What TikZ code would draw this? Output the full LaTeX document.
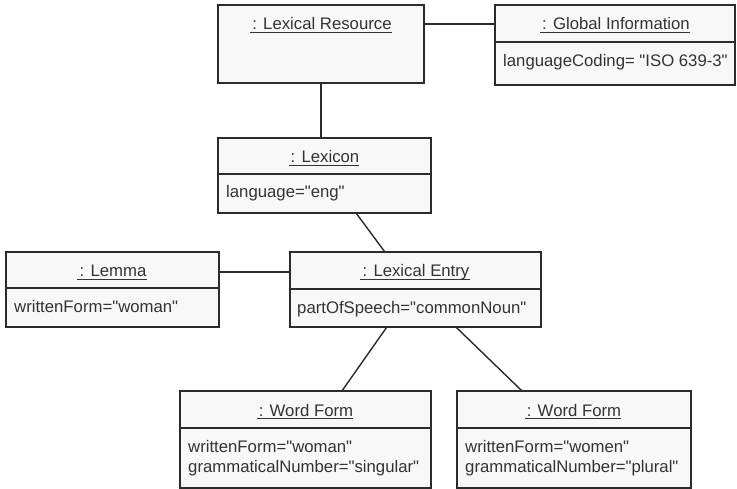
\documentclass[tikz,border=0pt]{standalone}
\usepackage{fontspec}
\setmainfont{Liberation Sans}[Ligatures=TeXOff]
\usetikzlibrary{calc}
\definecolor{ln}{HTML}{2B2B2B}
\definecolor{bx}{HTML}{F8F8F8}
\definecolor{tx}{HTML}{333333}
\begin{document}
\begin{tikzpicture}[x=1bp,y=-1bp,
  obj/.style={draw=ln, line width=1.4bp, fill=bx, inner sep=0pt, outer sep=0pt, anchor=north west},
  ttl/.style={inner sep=0pt, anchor=base, text=tx, font=\fontsize{16.8}{20}\selectfont},
  attr/.style={inner sep=0pt, anchor=base west, text=tx, font=\fontsize{16.8}{20}\selectfont},
  link/.style={draw=ln, line width=1.4bp},
  ul/.style={draw=tx, line width=1bp},
  sep/.style={draw=ln, line width=1.4bp}]
\fill[white] (0,0) rectangle (737,489);
\useasboundingbox (0,0) rectangle (737,489);

% boxes
\node[obj, minimum width=206bp, minimum height=78bp] (lr) at (218,5) {};
\node[obj, minimum width=240bp, minimum height=80bp] (gi) at (495,5) {};
\node[obj, minimum width=213bp, minimum height=75bp] (lex) at (218,138) {};
\node[obj, minimum width=213bp, minimum height=75bp] (lem) at (6,252) {};
\node[obj, minimum width=251bp, minimum height=75bp] (le) at (290,252) {};
\node[obj, minimum width=251bp, minimum height=97bp] (wf1) at (180,391) {};
\node[obj, minimum width=234bp, minimum height=97bp] (wf2) at (457,391) {};

% dividers
\draw[sep] ([yshift=-37bp]gi.north west) -- ([yshift=-37bp]gi.north east);
\draw[sep] ([yshift=-36bp]lex.north west) -- ([yshift=-36bp]lex.north east);
\draw[sep] ([yshift=-36bp]lem.north west) -- ([yshift=-36bp]lem.north east);
\draw[sep] ([yshift=-37bp]le.north west) -- ([yshift=-37bp]le.north east);
\draw[sep] ([yshift=-37bp]wf1.north west) -- ([yshift=-37bp]wf1.north east);
\draw[sep] ([yshift=-37bp]wf2.north west) -- ([yshift=-37bp]wf2.north east);

% titles
\node[ttl] (lrT) at (322,30) {: Lexical Resource};
\node[ttl] (giT) at (616,30) {: Global Information};
\node[ttl] (lexT) at (325,163) {: Lexicon};
\node[ttl] (lemT) at (113,277) {: Lemma};
\node[ttl] (leT) at (416,277) {: Lexical Entry};
\node[ttl] (wf1T) at (306,416) {: Word Form};
\node[ttl] (wf2T) at (574,416) {: Word Form};
\foreach \t in {lrT,giT,lexT,lemT,leT,wf1T,wf2T}{
  \draw[ul] ([xshift=-2bp,yshift=-2.5bp]\t.base west) -- ([yshift=-2.5bp]\t.base east);
}

% attributes
\node[attr] (giA) at (503,67) {languageCoding= "ISO 639-3"};
\node[attr] (lexA) at (226,198) {language="eng"};
\node[attr] (lemA) at (14,312) {writtenForm="woman"};
\node[attr] (leA) at (297,313) {partOfSpeech="commonNoun"};
\node[attr] (wf1A) at (188,452) {writtenForm="woman"};
\node[attr] (wf1B) at (188,472) {grammaticalNumber="singular"};
\node[attr] (wf2A) at (465,452) {writtenForm="women"};
\node[attr] (wf2B) at (465,472) {grammaticalNumber="plural"};

% connectors
\draw[link] (lr.south) -- (lr.south |- lex.north);
\coordinate (c1) at ([yshift=-19bp]lr.north east);
\draw[link] (c1) -- (c1 -| gi.west);
\coordinate (c2) at ([yshift=-20bp]lem.north east);
\draw[link] (c2) -- (c2 -| le.west);
\draw[link] ($(lex.south west)!0.648!(lex.south east)$) -- ($(le.north west)!0.378!(le.north east)$);
\draw[link] ($(le.south west)!0.386!(le.south east)$) -- ($(wf1.north west)!0.645!(wf1.north east)$);
\draw[link] ($(le.south west)!0.661!(le.south east)$) -- ($(wf2.north west)!0.278!(wf2.north east)$);
\end{tikzpicture}
\end{document}
